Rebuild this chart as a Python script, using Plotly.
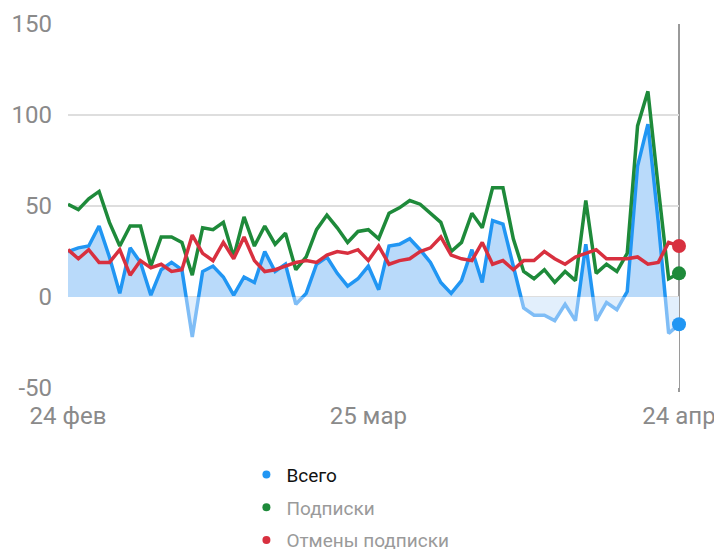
import pandas as pd
import plotly.graph_objects as go

# ---- data ----
dates = pd.date_range("2023-02-24", "2023-04-24", freq="D")
subs = [51, 48, 54, 58, 41, 28, 39, 39, 17, 33,
        33, 30, 12, 38, 37, 41, 22, 44, 28, 39,
        29, 35, 15, 22, 37, 45, 38, 30, 36, 37,
        32, 46, 49, 53, 51, 46, 41, 25, 30, 46,
        38, 60, 60, 32, 14, 10, 15, 8, 14, 9,
        53, 13, 18, 14, 24, 94, 113, 60, 10, 13]
unsubs = [26, 21, 26, 19, 19, 26, 12, 20, 16, 18,
          14, 15, 34, 24, 20, 30, 21, 33, 20, 14,
          15, 17, 19, 20, 19, 23, 25, 24, 26, 20,
          28, 18, 20, 21, 25, 27, 33, 23, 21, 20,
          30, 18, 20, 15, 20, 20, 25, 21, 18, 22,
          24, 26, 21, 21, 21, 22, 18, 19, 30, 28]
total = [25, 27, 28, 39, 22, 2, 27, 19, 1, 15,
         19, 15, -22, 14, 17, 11, 1, 11, 8, 25,
         14, 18, -4, 2, 18, 22, 13, 6, 10, 17,
         4, 28, 29, 32, 26, 19, 8, 2, 9, 26,
         8, 42, 40, 17, -6, -10, -10, -13, -4, -13,
         29, -13, -3, -7, 3, 72, 95, 41, -20, -15]
series_names = ["Всего", "Подписки", "Отмены подписки"]
tick_dates = ["2023-02-24", "2023-03-25", "2023-04-24"]
tick_text = ["24 фев", "25 мар", "24 апр"]
y_ticks = [-50, 0, 50, 100, 150]
y_tick_text = ["-50", "0", "50", "100", "150"]

# ---- styles ----
BLUE = "#2196F3"
BLUE_NEG = "#7FBDF6"
FILL_POS = "#B9DAFA"
FILL_NEG = "#E2EFFC"
GREEN = "#1E8A3A"
RED = "#D8303F"
FONT = "Roboto"
LW = 3.5

fig = go.Figure()

# Всего: line + fill above zero
fig.add_trace(go.Scatter(x=dates, y=total, mode="lines",
                         line=dict(color=BLUE, width=LW),
                         fill="tozeroy", fillcolor=FILL_POS,
                         showlegend=False, hoverinfo="skip"))
# Всего: lighter styling for the part below zero (clipped sub-plot)
fig.add_trace(go.Scatter(x=dates, y=total, xaxis="x", yaxis="y2", mode="lines",
                         line=dict(color=BLUE_NEG, width=LW),
                         fill="tozeroy", fillcolor=FILL_NEG,
                         showlegend=False, hoverinfo="skip"))
fig.add_trace(go.Scatter(x=dates, y=subs, mode="lines",
                         line=dict(color=GREEN, width=LW),
                         showlegend=False))
fig.add_trace(go.Scatter(x=dates, y=unsubs, mode="lines",
                         line=dict(color=RED, width=LW),
                         showlegend=False))

# end markers
fig.add_trace(go.Scatter(x=[dates[-1]], y=[unsubs[-1]], mode="markers",
                         marker=dict(color=RED, size=14), cliponaxis=False,
                         showlegend=False))
fig.add_trace(go.Scatter(x=[dates[-1]], y=[subs[-1]], mode="markers",
                         marker=dict(color=GREEN, size=14), cliponaxis=False,
                         showlegend=False))
fig.add_trace(go.Scatter(x=[dates[-1]], y=[total[-1]], xaxis="x", yaxis="y2",
                         mode="markers",
                         marker=dict(color=BLUE, size=14), cliponaxis=False,
                         showlegend=False))

# legend entries (dots)
for name, col, label in zip(series_names, [BLUE, GREEN, RED],
                            ["<span style='color:#111111'>Всего</span>",
                             "Подписки", "Отмены подписки"]):
    fig.add_trace(go.Scatter(x=[None], y=[None], mode="markers",
                             marker=dict(color=col, size=8),
                             name=label, legendgroup=name, showlegend=True))

fig.add_shape(type="line", xref="paper", yref="paper", x0=1, x1=1,
              y0=-0.011, y1=1, line=dict(color="#9A9A9A", width=2),
              layer="between")

fig.update_layout(
    width=714, height=549,
    margin=dict(l=60, r=43, t=16, b=169, autoexpand=False),
    paper_bgcolor="white", plot_bgcolor="white",
    font=dict(family=FONT, color="#8A8A8A"),
    xaxis=dict(type="date", range=[dates[0], dates[-1]],
               tickvals=tick_dates, ticktext=tick_text,
               showgrid=False, zeroline=False, showline=False,
               ticks="", tickfont=dict(size=24, color="#8A8A8A"),
               ticklabelstandoff=11, automargin=False),
    yaxis=dict(range=[-50, 150], tickvals=y_ticks, ticktext=y_tick_text,
               showgrid=True, gridcolor="#DEDEDE", gridwidth=1.5,
               zeroline=False, showline=False, ticks="",
               tickfont=dict(size=24, color="#8A8A8A"),
               ticklabelstandoff=15, automargin=False),
    yaxis2=dict(domain=[0, 0.25], range=[-50, 0], anchor="x",
                visible=False, showgrid=False, zeroline=False,
                automargin=False),
    legend=dict(orientation="v", x=0.292, xanchor="left",
                y=-0.186, yanchor="top",
                font=dict(size=19, color="#9A9A9A", family=FONT),
                traceorder="grouped", tracegroupgap=5,
                bgcolor="rgba(0,0,0,0)"),
    hovermode=False,
)

fig.write_html("out.html")
